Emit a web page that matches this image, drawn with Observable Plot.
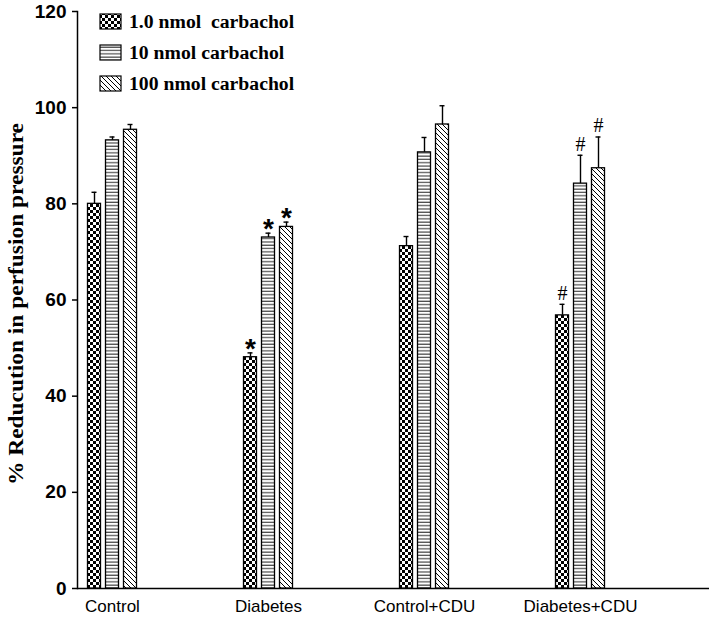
<!DOCTYPE html>
<html><head><meta charset="utf-8">
<script src="https://cdn.jsdelivr.net/npm/d3@7"></script>
<script src="https://cdn.jsdelivr.net/npm/@observablehq/plot@0.6"></script>
<style>body{margin:0;background:#fff}</style></head>
<body><div id="chart"></div>
<script>
const groups = ["Control", "Diabetes", "Control+CDU", "Diabetes+CDU"];
const seriesNames = ["1.0 nmol  carbachol", "10 nmol carbachol", "100 nmol carbachol"];
const low = [80.0, 48.1, 71.2, 56.8];
const lowErr = [2.4, 0.9, 2.0, 2.3];
const mid = [93.2, 73.0, 90.7, 84.2];
const midErr = [0.7, 0.9, 3.1, 5.9];
const high = [95.4, 75.2, 96.5, 87.4];
const highErr = [1.1, 1.0, 3.9, 6.5];
const annotGroups = ["Diabetes", "Diabetes+CDU"];
const annotSymbols = ["*", "#"];
const yTicks = [0, 20, 40, 60, 80, 100, 120];
const yLabel = "% Reducution in perfusion pressure";

const values = [low, mid, high];
const errs = [lowErr, midErr, highErr];
const rows = [];
values.forEach((arr, s) => arr.forEach((v, g) => rows.push({group: groups[g], s, value: v, err: errs[s][g]})));
const annots = [];
annotGroups.forEach((g, k) => rows.filter(r => r.group === g).forEach(r => annots.push({...r, sym: annotSymbols[k]})));

const offs = [-18, 0, 18];
const step = 156, barW = 13, capW = 5;
const inset = (step - barW) / 2, capInset = (step - capW) / 2;

const marks = [];
for (let s = 0; s < 3; s++) {
  const d = rows.filter(r => r.s === s);
  marks.push(Plot.ruleX(d, {x: "group", y1: "value", y2: r => r.value + r.err, dx: offs[s], stroke: "black", strokeWidth: 1.4}));
  marks.push(Plot.tickY(d, {x: "group", y: r => r.value + r.err, dx: offs[s], insetLeft: capInset, insetRight: capInset, stroke: "black", strokeWidth: 1.4}));
  marks.push(Plot.barY(d, {x: "group", y: "value", dx: offs[s], insetLeft: inset, insetRight: inset, fill: `url(#pat${s})`, stroke: "black", strokeWidth: 1.3}));
  const a = annots.filter(r => r.s === s);
  marks.push(Plot.text(a.filter(r => r.sym === "*"), {x: "group", y: r => r.value + r.err, dx: offs[s], dy: -4, text: "sym", fontSize: 28, fontWeight: "bold", fontFamily: "Liberation Sans", fill: "black"}));
  marks.push(Plot.text(a.filter(r => r.sym === "#"), {x: "group", y: r => r.value + r.err, dx: offs[s], dy: -11, text: "sym", fontSize: 20, fontFamily: "Liberation Serif", fill: "black"}));
}

const chart = Plot.plot({
  width: 709, height: 620,
  marginLeft: 77, marginRight: 0, marginTop: 11, marginBottom: 32,
  style: {fontFamily: "Liberation Sans", background: "white"},
  x: {type: "band", domain: groups, range: [34, 658], padding: 0},
  y: {domain: [0, 120]},
  marks: [
    Plot.axisY({ticks: yTicks, tickSize: 5, tickPadding: 6, fontSize: 19, fontWeight: "bold", label: null, strokeWidth: 1.5, fill: "black"}),
    Plot.axisX({tickSize: 0, tickPadding: 11, fontSize: 17, label: null, fill: "black"}),
    Plot.frame({anchor: "left", stroke: "black", strokeWidth: 1.5}),
    Plot.ruleY([0], {stroke: "black", strokeWidth: 1.5}),
    ...marks,
    Plot.text([yLabel], {frameAnchor: "left", textAnchor: "middle", dx: -61, dy: 4, rotate: -90, text: d => d, fontSize: 21, fontWeight: "bold", fontFamily: "Liberation Serif", fill: "black"})
  ]
});

const svg = d3.select(chart);
svg.selectAll("text").filter(function() { return this.textContent === yLabel; })
  .attr("textLength", 362).attr("lengthAdjust", "spacingAndGlyphs");
const defs = svg.insert("defs", ":first-child");
const p0 = defs.append("pattern").attr("id", "pat0").attr("patternUnits", "userSpaceOnUse").attr("width", 6).attr("height", 6);
p0.append("rect").attr("width", 6).attr("height", 6).attr("fill", "white");
p0.append("rect").attr("width", 3).attr("height", 3).attr("fill", "black");
p0.append("rect").attr("x", 3).attr("y", 3).attr("width", 3).attr("height", 3).attr("fill", "black");
const p1 = defs.append("pattern").attr("id", "pat1").attr("patternUnits", "userSpaceOnUse").attr("width", 6).attr("height", 3.3);
p1.append("rect").attr("width", 6).attr("height", 3.3).attr("fill", "white");
p1.append("line").attr("x1", 0).attr("x2", 6).attr("y1", 1).attr("y2", 1).attr("stroke", "#222").attr("stroke-width", 1);
const p2 = defs.append("pattern").attr("id", "pat2").attr("patternUnits", "userSpaceOnUse").attr("width", 5).attr("height", 5);
p2.append("rect").attr("width", 5).attr("height", 5).attr("fill", "white");
p2.append("path").attr("d", "M-1,-1L6,6M-1,4L1,6M4,-1L6,1").attr("stroke", "black").attr("stroke-width", 1);

const leg = svg.append("g").attr("text-anchor", "start");
seriesNames.forEach((name, i) => {
  const y = 14 + i * 31;
  leg.append("rect").attr("x", 100).attr("y", y).attr("width", 21).attr("height", 15)
    .attr("fill", `url(#pat${i})`).attr("stroke", "black").attr("stroke-width", 1.2);
  leg.append("text").attr("x", 129).attr("y", y + 14).attr("text-anchor", "start").attr("font-family", "Liberation Serif")
    .attr("font-weight", "bold").attr("font-size", 19.7).attr("fill", "black")
    .style("white-space", "pre").attr("xml:space", "preserve").text(name);
});

document.getElementById("chart").appendChild(chart);
</script>
</body></html>
